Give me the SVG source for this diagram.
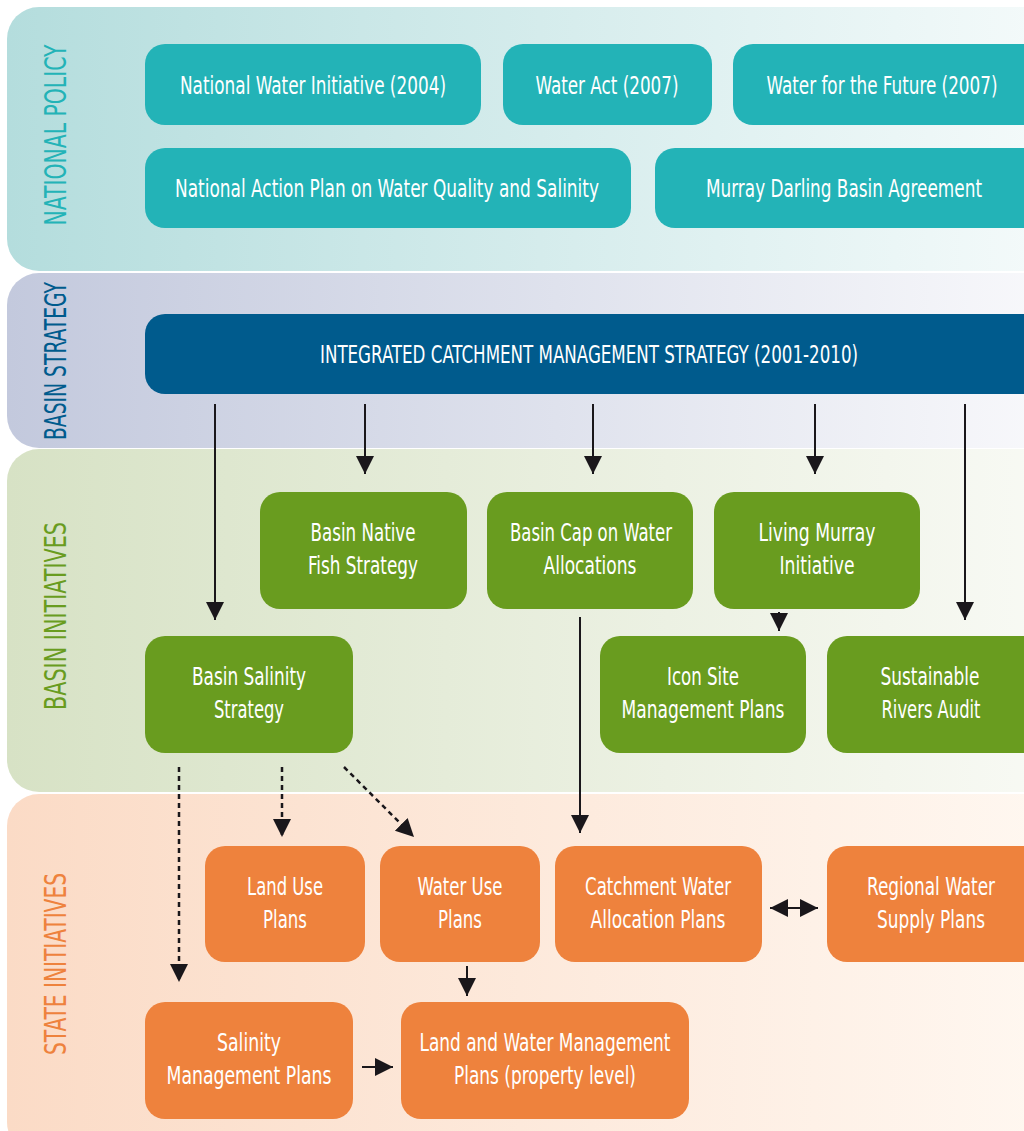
<svg xmlns="http://www.w3.org/2000/svg" width="1024" height="1131" viewBox="0 0 1024 1131">
<defs>
<linearGradient id="g1" x1="0" y1="0" x2="1" y2="0"><stop offset="0" stop-color="#b4dddd"/><stop offset="1" stop-color="#f8fcfc"/></linearGradient>
<linearGradient id="g2" x1="0" y1="0" x2="1" y2="0"><stop offset="0" stop-color="#c3c9dd"/><stop offset="1" stop-color="#fbfbfd"/></linearGradient>
<linearGradient id="g3" x1="0" y1="0" x2="1" y2="0"><stop offset="0" stop-color="#d7e2c5"/><stop offset="1" stop-color="#fafbf7"/></linearGradient>
<linearGradient id="g4" x1="0" y1="0" x2="1" y2="0"><stop offset="0" stop-color="#fbdbc6"/><stop offset="1" stop-color="#fff9f3"/></linearGradient>
<marker id="ah" markerUnits="userSpaceOnUse" markerWidth="20" markerHeight="20" viewBox="0 0 20 20" refX="18" refY="10" orient="auto"><path d="M0,1 L18,10 L0,19 Z" fill="#1a171b"/></marker>
<marker id="ahs" markerUnits="userSpaceOnUse" markerWidth="20" markerHeight="20" viewBox="0 0 20 20" refX="2" refY="10" orient="auto"><path d="M20,1 L2,10 L20,19 Z" fill="#1a171b"/></marker>
</defs>
<style>
.lbl{font-family:"DejaVu Sans Condensed","Liberation Sans Narrow","Liberation Sans",sans-serif;font-size:25px;fill:#ffffff;text-anchor:middle}
.band{font-family:"DejaVu Sans Condensed","DejaVu Sans",sans-serif;font-size:31px;text-anchor:middle;font-weight:200}
.teal{fill:#23b3b7}.blue{fill:#005b8d}.green{fill:#699c1f}.orange{fill:#ee823d}
.ln{stroke:#1a171b;stroke-width:2;fill:none}
.dot{stroke:#1a171b;stroke-width:2.5;fill:none;stroke-dasharray:5,4}
</style>
<g id="bands">
<rect x="7" y="7" width="1100" height="264" rx="32" fill="url(#g1)"/>
<rect x="7" y="273" width="1100" height="175" rx="32" fill="url(#g2)"/>
<rect x="7" y="449" width="1100" height="343" rx="32" fill="url(#g3)"/>
<rect x="7" y="794" width="1100" height="360" rx="32" fill="url(#g4)"/>
<text class="band" transform="translate(66,135) rotate(-90)" fill="#23b3b7" textLength="181" lengthAdjust="spacingAndGlyphs">NATIONAL POLICY</text>
<text class="band" transform="translate(66,361) rotate(-90)" fill="#005b8d" textLength="158" lengthAdjust="spacingAndGlyphs">BASIN STRATEGY</text>
<text class="band" transform="translate(66,616) rotate(-90)" fill="#699c1f" textLength="188" lengthAdjust="spacingAndGlyphs">BASIN INITIATIVES</text>
<text class="band" transform="translate(66,964) rotate(-90)" fill="#ee823d" textLength="182" lengthAdjust="spacingAndGlyphs">STATE INITIATIVES</text>
</g>
<g id="connectors">
<line class="ln" x1="215" y1="404" x2="215" y2="620" marker-end="url(#ah)"/>
<line class="ln" x1="365" y1="404" x2="365" y2="474" marker-end="url(#ah)"/>
<line class="ln" x1="593" y1="404" x2="593" y2="474" marker-end="url(#ah)"/>
<line class="ln" x1="815" y1="404" x2="815" y2="474" marker-end="url(#ah)"/>
<line class="ln" x1="965" y1="404" x2="965" y2="620" marker-end="url(#ah)"/>
<line class="ln" x1="779" y1="612" x2="779" y2="631" marker-end="url(#ah)"/>
<line class="ln" x1="580" y1="617" x2="580" y2="833" marker-end="url(#ah)"/>
<line class="dot" x1="179" y1="767" x2="179" y2="982" marker-end="url(#ah)"/>
<line class="dot" x1="282" y1="767" x2="282" y2="837" marker-end="url(#ah)"/>
<line class="dot" x1="344" y1="767" x2="414" y2="837" marker-end="url(#ah)"/>
<line class="ln" x1="467" y1="966" x2="467" y2="996" marker-end="url(#ah)"/>
<line class="ln" x1="362" y1="1067" x2="393" y2="1067" marker-end="url(#ah)"/>
<line class="ln" x1="770" y1="908" x2="818" y2="908" marker-start="url(#ahs)" marker-end="url(#ah)"/>
</g>
<g id="n1"><rect class="teal" x="145" y="44" width="336" height="81" rx="20"/><text class="lbl" x="313" y="94" textLength="266" lengthAdjust="spacingAndGlyphs">National Water Initiative (2004)</text></g>
<g id="n2"><rect class="teal" x="503" y="44" width="209" height="81" rx="20"/><text class="lbl" x="607" y="94" textLength="143" lengthAdjust="spacingAndGlyphs">Water Act (2007)</text></g>
<g id="n3"><rect class="teal" x="733" y="44" width="330" height="81" rx="20"/><text class="lbl" x="882" y="94" textLength="231" lengthAdjust="spacingAndGlyphs">Water for the Future (2007)</text></g>
<g id="n4"><rect class="teal" x="145" y="148" width="486" height="80" rx="20"/><text class="lbl" x="387" y="197" textLength="424" lengthAdjust="spacingAndGlyphs">National Action Plan on Water Quality and Salinity</text></g>
<g id="n5"><rect class="teal" x="655" y="148" width="400" height="80" rx="20"/><text class="lbl" x="844" y="197" textLength="276" lengthAdjust="spacingAndGlyphs">Murray Darling Basin Agreement</text></g>
<g id="n6"><rect class="blue" x="145" y="314" width="920" height="80" rx="20"/><text class="lbl" x="589" y="363" textLength="538" lengthAdjust="spacingAndGlyphs">INTEGRATED CATCHMENT MANAGEMENT STRATEGY (2001-2010)</text></g>
<g id="n7"><rect class="green" x="260" y="492" width="207" height="117" rx="20"/><text class="lbl" x="363" y="541" textLength="105" lengthAdjust="spacingAndGlyphs">Basin Native</text><text class="lbl" x="363" y="574" textLength="110" lengthAdjust="spacingAndGlyphs">Fish Strategy</text></g>
<g id="n8"><rect class="green" x="487" y="492" width="206" height="117" rx="20"/><text class="lbl" x="591" y="541" textLength="162" lengthAdjust="spacingAndGlyphs">Basin Cap on Water</text><text class="lbl" x="590" y="574" textLength="93" lengthAdjust="spacingAndGlyphs">Allocations</text></g>
<g id="n9"><rect class="green" x="714" y="492" width="206" height="117" rx="20"/><text class="lbl" x="817" y="541" textLength="117" lengthAdjust="spacingAndGlyphs">Living Murray</text><text class="lbl" x="817" y="574" textLength="75" lengthAdjust="spacingAndGlyphs">Initiative</text></g>
<g id="n10"><rect class="green" x="145" y="636" width="208" height="117" rx="20"/><text class="lbl" x="249" y="685" textLength="114" lengthAdjust="spacingAndGlyphs">Basin Salinity</text><text class="lbl" x="249" y="718" textLength="70" lengthAdjust="spacingAndGlyphs">Strategy</text></g>
<g id="n11"><rect class="green" x="600" y="636" width="206" height="117" rx="20"/><text class="lbl" x="703" y="685" textLength="72" lengthAdjust="spacingAndGlyphs">Icon Site</text><text class="lbl" x="703" y="718" textLength="163" lengthAdjust="spacingAndGlyphs">Management Plans</text></g>
<g id="n12"><rect class="green" x="827" y="636" width="240" height="117" rx="20"/><text class="lbl" x="930" y="685" textLength="99" lengthAdjust="spacingAndGlyphs">Sustainable</text><text class="lbl" x="931" y="718" textLength="99" lengthAdjust="spacingAndGlyphs">Rivers Audit</text></g>
<g id="n13"><rect class="orange" x="205" y="846" width="160" height="116" rx="20"/><text class="lbl" x="285" y="895" textLength="76" lengthAdjust="spacingAndGlyphs">Land Use</text><text class="lbl" x="285" y="928" textLength="44" lengthAdjust="spacingAndGlyphs">Plans</text></g>
<g id="n14"><rect class="orange" x="380" y="846" width="160" height="116" rx="20"/><text class="lbl" x="460" y="895" textLength="85" lengthAdjust="spacingAndGlyphs">Water Use</text><text class="lbl" x="460" y="928" textLength="44" lengthAdjust="spacingAndGlyphs">Plans</text></g>
<g id="n15"><rect class="orange" x="555" y="846" width="207" height="116" rx="20"/><text class="lbl" x="658" y="895" textLength="146" lengthAdjust="spacingAndGlyphs">Catchment Water</text><text class="lbl" x="658" y="928" textLength="135" lengthAdjust="spacingAndGlyphs">Allocation Plans</text></g>
<g id="n16"><rect class="orange" x="827" y="846" width="240" height="116" rx="20"/><text class="lbl" x="931" y="895" textLength="128" lengthAdjust="spacingAndGlyphs">Regional Water</text><text class="lbl" x="931" y="928" textLength="108" lengthAdjust="spacingAndGlyphs">Supply Plans</text></g>
<g id="n17"><rect class="orange" x="145" y="1002" width="208" height="117" rx="20"/><text class="lbl" x="249" y="1051" textLength="64" lengthAdjust="spacingAndGlyphs">Salinity</text><text class="lbl" x="249" y="1084" textLength="165" lengthAdjust="spacingAndGlyphs">Management Plans</text></g>
<g id="n18"><rect class="orange" x="401" y="1002" width="288" height="117" rx="20"/><text class="lbl" x="545" y="1051" textLength="251" lengthAdjust="spacingAndGlyphs">Land and Water Management</text><text class="lbl" x="545" y="1084" textLength="182" lengthAdjust="spacingAndGlyphs">Plans (property level)</text></g>
</svg>
